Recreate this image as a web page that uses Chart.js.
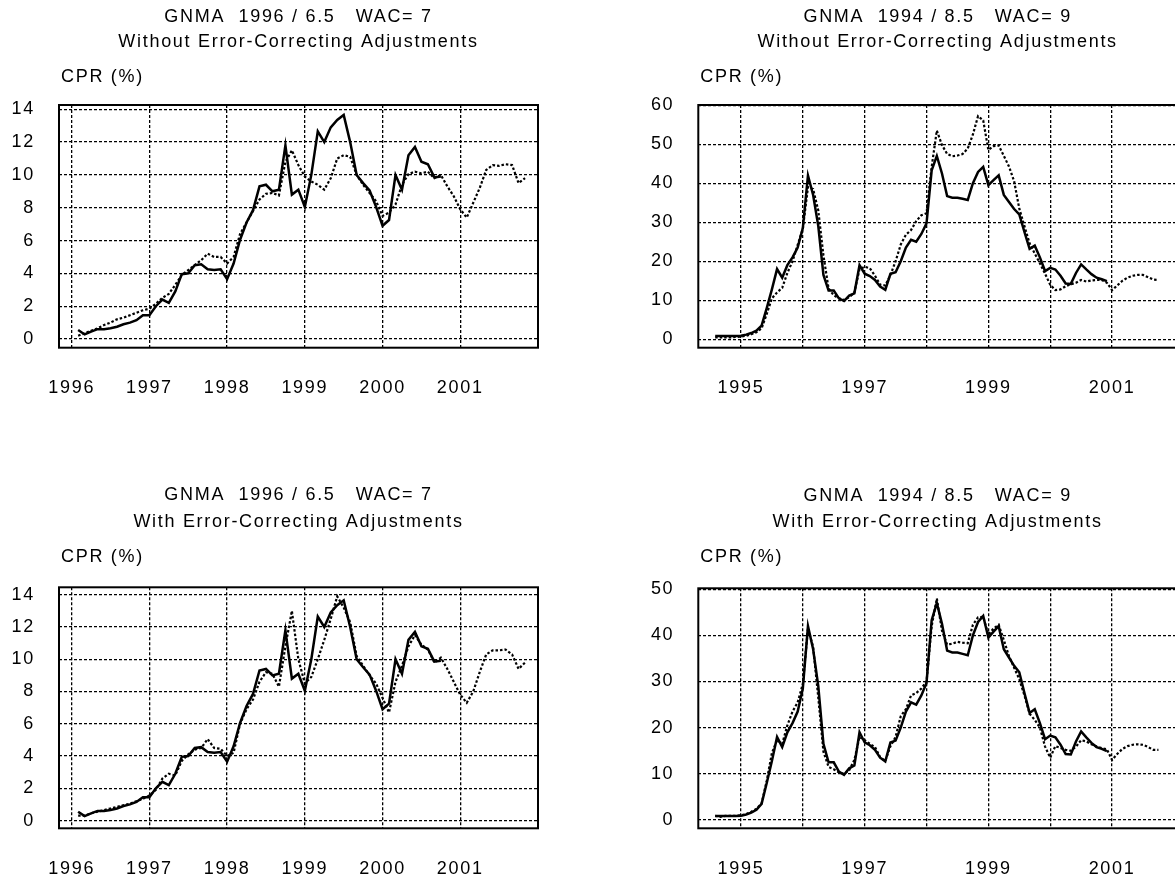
<!DOCTYPE html>
<html>
<head>
<meta charset="utf-8">
<title>GNMA CPR</title>
<script src="https://cdn.jsdelivr.net/npm/chart.js@4.4.1/dist/chart.umd.min.js"></script>
<style>
  html, body { margin: 0; padding: 0; background: #fff; overflow: hidden; }
  body { width: 1175px; height: 886px; position: relative; }
  canvas { position: absolute; }
</style>
</head>
<body>
<canvas id="c1" width="590" height="440" style="left:0;top:0"></canvas>
<canvas id="c2" width="600" height="440" style="left:590px;top:0"></canvas>
<canvas id="c3" width="590" height="446" style="left:0;top:440px"></canvas>
<canvas id="c4" width="600" height="446" style="left:590px;top:440px"></canvas>
<script>
/* GNMA prepayment charts: actual CPR (solid) vs model (dotted) */

const FONT = { family: '"Liberation Sans", Arial, sans-serif', size: 18 };

// 1996 pool, monthly values, first point Feb 1996
const actual1996Start = 1996 + 1 / 12;
const actual1996 = [0.55, 0.28, 0.45, 0.6, 0.6, 0.65, 0.75, 0.9, 1.0, 1.15,
  1.45, 1.45, 2.0, 2.4, 2.2, 2.9, 3.95, 4.0, 4.5, 4.55,
  4.25, 4.2, 4.25, 3.65, 4.6, 6.05, 7.1, 7.85, 9.3, 9.4,
  9.0, 9.1, 11.8, 8.8, 9.1, 8.05, 10.0, 12.65, 12.0, 12.9,
  13.35, 13.65, 12.0, 10.0, 9.5, 9.05, 8.05, 6.9, 7.25, 10.0,
  9.1, 11.2, 11.7, 10.8, 10.65, 9.85, 9.9];
const noAdj1996 = [0.2, 0.35, 0.5, 0.65, 0.85, 1.0, 1.2, 1.3, 1.45, 1.6,
  1.75, 1.85, 2.15, 2.5, 2.75, 3.3, 3.9, 4.2, 4.5, 4.8,
  5.2, 5.0, 5.0, 4.6, 5.0, 6.4, 7.1, 7.8, 8.5, 8.85,
  8.9, 8.75, 10.8, 11.5, 10.6, 9.9, 9.6, 9.4, 9.1, 9.8,
  11.0, 11.2, 11.1, 10.0, 9.4, 8.9, 8.4, 7.5, 7.7, 8.2,
  9.4, 10.05, 10.2, 10.1, 10.2, 9.8, 10.0, 9.3, 8.7, 7.9,
  7.4, 8.3, 9.2, 10.3, 10.6, 10.55, 10.65, 10.6, 9.5, 9.8];
const adj1996 = [0.3, 0.3, 0.45, 0.55, 0.65, 0.75, 0.85, 0.95, 1.05, 1.2,
  1.35, 1.55, 1.9, 2.6, 2.9, 2.8, 3.7, 4.1, 4.4, 4.5,
  5.05, 4.5, 4.45, 4.0, 4.2, 6.0, 6.9, 7.5, 8.6, 9.2,
  9.1, 8.3, 10.8, 13.0, 10.0, 8.5, 8.9, 10.0, 11.2, 12.5,
  13.9, 13.2, 12.3, 10.2, 9.6, 9.0, 8.5, 7.6, 6.7, 8.6,
  9.6, 10.8, 11.5, 10.9, 10.6, 9.8, 10.1, 9.4, 8.6, 7.8,
  7.3, 8.0, 9.2, 10.3, 10.55, 10.55, 10.6, 10.3, 9.4, 9.8];

// 1994 pool, monthly values, first point Aug 1994
const actual1994Start = 1994 + 7 / 12;
const actual1994 = [0.85, 0.85, 0.85, 0.85, 0.85, 0.9, 1.2, 1.6, 2.2, 3.5,
  8.0, 12.8, 18.0, 15.8, 19.0, 21.0, 23.5, 28.5, 42.0, 37.0,
  29.0, 16.5, 12.5, 12.5, 10.5, 9.8, 11.2, 11.8, 19.0, 16.8,
  16.2, 15.2, 13.5, 12.7, 16.8, 17.2, 20.0, 23.5, 25.5, 25.0,
  27.0, 29.7, 43.3, 47.0, 42.5, 36.7, 36.3, 36.3, 36.0, 35.7,
  40.0, 42.9, 44.2, 39.5, 40.8, 42.0, 37.0, 35.2, 33.4, 32.0,
  27.5, 23.2, 24.0, 21.0, 17.5, 18.3, 17.9, 16.3, 14.3, 14.2,
  17.0, 19.2, 17.9, 16.7, 15.8, 15.4, 14.9];
const noAdj1994 = [0.5, 0.5, 0.5, 0.5, 0.6, 0.7, 0.9, 1.3, 1.8, 2.8,
  6.5, 10.5, 12.0, 13.2, 17.0, 20.0, 24.2, 28.3, 39.0, 38.5,
  33.0, 21.5, 13.0, 11.3, 10.5, 10.1, 10.8, 12.0, 18.0, 18.6,
  18.2, 16.3, 14.0, 13.8, 16.5, 20.0, 24.3, 26.8, 28.0, 30.3,
  31.8, 32.3, 44.2, 53.5, 49.8, 47.5, 46.9, 47.1, 47.5, 48.9,
  52.5, 57.2, 56.1, 48.5, 49.5, 49.7, 47.0, 44.3, 40.5, 33.5,
  29.0, 24.6, 22.0, 19.5, 16.8, 14.0, 12.6, 12.8, 13.6, 14.1,
  14.5, 15.2, 14.8, 15.1, 15.2, 15.2, 14.5, 12.6, 13.8, 15.0,
  15.8, 16.3, 16.5, 16.5, 15.9, 15.3, 15.2];
const adj1994 = [0.9, 0.7, 0.9, 0.9, 0.9, 1.0, 1.3, 1.8, 2.4, 3.6,
  8.5, 14.5, 17.3, 16.5, 20.5, 23.5, 25.5, 29.5, 41.5, 37.5,
  26.5, 14.8, 11.5, 11.0, 10.3, 10.0, 10.8, 13.0, 18.0, 17.3,
  16.5, 15.8, 13.6, 12.8, 16.0, 18.0, 22.5, 24.0, 27.0, 27.5,
  28.5, 30.0, 42.0, 48.0, 41.0, 38.0, 38.2, 38.6, 38.4, 38.3,
  42.3, 43.9, 44.0, 40.1, 41.5, 42.3, 39.0, 35.5, 33.0, 30.5,
  27.0, 23.0, 21.7, 20.0, 15.9, 13.5, 16.0, 15.6, 15.2, 15.0,
  15.9, 17.3, 17.0, 16.4, 15.9, 15.6, 15.3, 13.0, 14.3, 15.4,
  16.0, 16.3, 16.4, 16.3, 15.8, 15.2, 15.2];

// axes
const gridYears1996 = [1996, 1997, 1998, 1999, 2000, 2001];
const labelYears1996 = [1996, 1997, 1998, 1999, 2000, 2001];
const gridYears1994 = [1995, 1996, 1997, 1998, 1999, 2000, 2001];
const labelYears1994 = [1995, 1997, 1999, 2001];
const cprTicks14 = [0, 2, 4, 6, 8, 10, 12, 14];
const cprTicks60 = [0, 10, 20, 30, 40, 50, 60];
const cprTicks50 = [0, 10, 20, 30, 40, 50];

const titleWithout1996 = ['GNMA  1996 / 6.5   WAC= 7', 'Without Error-Correcting Adjustments'];
const titleWith1996 = ['GNMA  1996 / 6.5   WAC= 7', 'With Error-Correcting Adjustments'];
const titleWithout1994 = ['GNMA  1994 / 8.5   WAC= 9', 'Without Error-Correcting Adjustments'];
const titleWith1994 = ['GNMA  1994 / 8.5   WAC= 9', 'With Error-Correcting Adjustments'];
const unitLabel = 'CPR (%)';

function series(values, start) {
  return values.map((v, i) => ({ x: start + i / 12, y: v }));
}

const panelText = {
  id: 'panelText',
  beforeDraw(chart) {
    chart.ctx.letterSpacing = '1.7px';
  },
  afterDraw(chart, args, opts) {
    const { ctx, chartArea: a } = chart;
    ctx.save();
    ctx.strokeStyle = '#000';
    ctx.lineWidth = 2;
    ctx.setLineDash([]);
    ctx.strokeRect(a.left, a.top, a.right - a.left, a.bottom - a.top);
    ctx.fillStyle = '#000';
    ctx.font = FONT.size + 'px ' + FONT.family;
    ctx.textBaseline = 'middle';
    ctx.textAlign = 'center';
    const cx = (a.left + a.right) / 2;
    opts.title.forEach((t, i) => ctx.fillText(t, cx, opts.titleY[i]));
    ctx.textAlign = 'left';
    ctx.fillText(unitLabel, a.left + 2, opts.unitY);
    ctx.restore();
  }
};

function buildPanel(id, cfg) {
  const canvas = document.getElementById(id);
  const ctx = canvas.getContext('2d');
  new Chart(ctx, {
    type: 'line',
    data: {
      datasets: [
        { data: series(cfg.actual, cfg.actualStart), borderColor: '#000', borderWidth: 2.5,
          pointRadius: 0, tension: 0, fill: false },
        { data: series(cfg.model, cfg.modelStart), borderColor: '#000', borderWidth: 2.2,
          borderDash: [2.5, 2], pointRadius: 0, tension: 0, fill: false }
      ]
    },
    options: {
      responsive: false,
      animation: false,
      events: [],
      layout: { padding: { left: 0, top: cfg.area.top, right: canvas.width - cfg.area.right, bottom: 0 } },
      plugins: {
        legend: { display: false },
        title: { display: false },
        tooltip: { enabled: false },
        panelText: { title: cfg.title, titleY: cfg.titleY, unitY: cfg.unitY }
      },
      scales: {
        x: {
          type: 'linear',
          min: cfg.xMin, max: cfg.xMax,
          afterBuildTicks: s => { s.ticks = cfg.xGrid.map(v => ({ value: v })); },
          afterFit: s => { s.height = canvas.height - cfg.area.bottom; },
          ticks: {
            autoSkip: false, maxRotation: 0, minRotation: 0, padding: 30,
            color: '#000', font: FONT,
            callback: v => cfg.xLabels.includes(v) ? String(v) : ''
          },
          grid: { color: '#000', lineWidth: 1.3, drawTicks: false },
          border: { display: false, dash: [3, 2] }
        },
        y: {
          min: cfg.yMin, max: cfg.yMax,
          afterBuildTicks: s => { s.ticks = cfg.yTicks.map(v => ({ value: v })); },
          afterFit: s => { s.width = cfg.area.left; },
          ticks: { padding: 24, color: '#000', font: FONT, callback: v => String(v) },
          grid: { color: '#000', lineWidth: 1.3, drawTicks: false },
          border: { display: false, dash: [3, 2] }
        }
      }
    },
    plugins: [panelText]
  });
}

buildPanel('c1', {
  actual: actual1996, actualStart: actual1996Start,
  model: noAdj1996, modelStart: actual1996Start,
  area: { left: 59, top: 105, right: 538, bottom: 347.7 },
  xMin: 1995.837, xMax: 2002.0, xGrid: gridYears1996, xLabels: labelYears1996,
  yMin: -0.53, yMax: 14.26, yTicks: cprTicks14,
  title: titleWithout1996, titleY: [17, 42], unitY: 77
});

buildPanel('c2', {
  actual: actual1994, actualStart: actual1994Start,
  model: noAdj1994, modelStart: actual1994Start,
  area: { left: 108.3, top: 105, right: 587, bottom: 347.7 },
  xMin: 1994.31, xMax: 2002.05, xGrid: gridYears1994, xLabels: labelYears1994,
  yMin: -2.15, yMax: 60.05, yTicks: cprTicks60,
  title: titleWithout1994, titleY: [17, 42], unitY: 77
});

buildPanel('c3', {
  actual: actual1996, actualStart: actual1996Start,
  model: adj1996, modelStart: actual1996Start,
  area: { left: 59, top: 147.3, right: 538, bottom: 388.3 },
  xMin: 1995.837, xMax: 2002.0, xGrid: gridYears1996, xLabels: labelYears1996,
  yMin: -0.48, yMax: 14.46, yTicks: cprTicks14,
  title: titleWith1996, titleY: [55, 82], unitY: 117
});

buildPanel('c4', {
  actual: actual1994, actualStart: actual1994Start,
  model: adj1994, modelStart: actual1994Start,
  area: { left: 108.3, top: 148.3, right: 587, bottom: 388.3 },
  xMin: 1994.31, xMax: 2002.05, xGrid: gridYears1994, xLabels: labelYears1994,
  yMin: -1.8, yMax: 50.2, yTicks: cprTicks50,
  title: titleWith1994, titleY: [56, 82], unitY: 117
});
</script>
</body>
</html>
